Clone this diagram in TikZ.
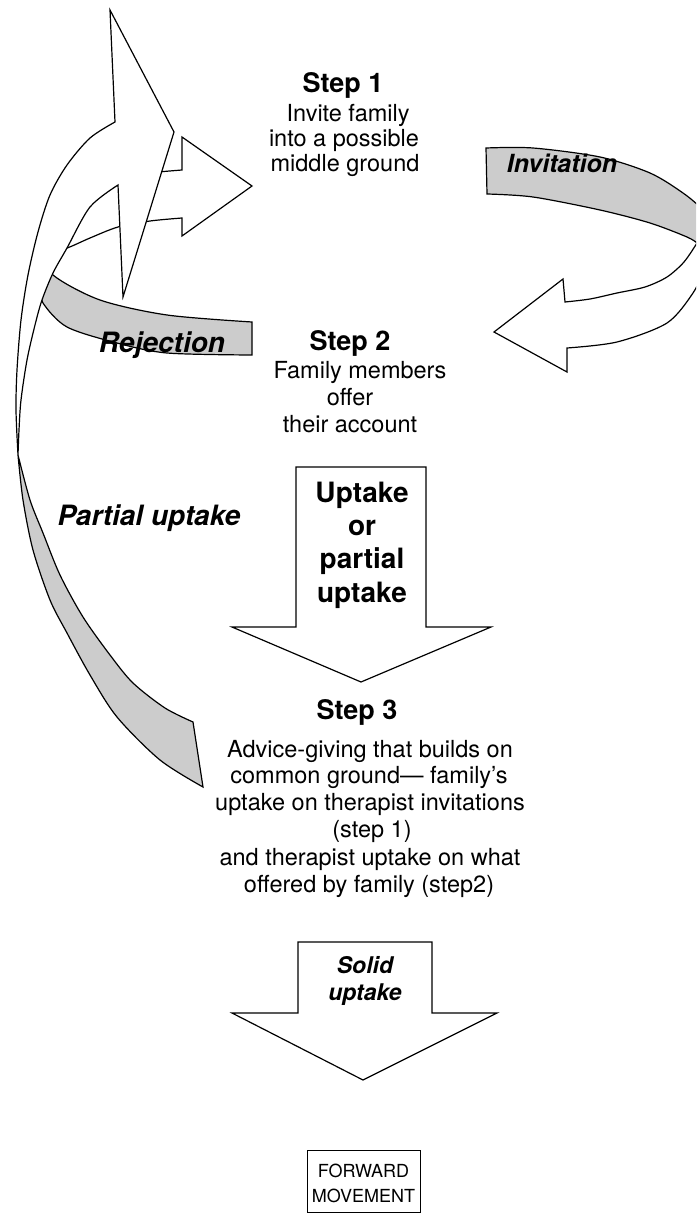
\documentclass[tikz,border=0pt]{standalone}
\usepackage{fontspec}
\setmainfont{TeX Gyre Heros}
\definecolor{bandgray}{RGB}{204,204,204}
\begin{document}
\begin{tikzpicture}[x=1pt,y=-1pt,line join=miter,
  outl/.style={draw=black,line width=1.2pt},
  band/.style={outl,fill=bandgray},
  face/.style={outl,fill=white},
  body/.style={font=\fontsize{23.5}{26}\selectfont,inner sep=0pt,anchor=base},
  small/.style={font=\fontsize{18}{21}\selectfont,inner sep=0pt,anchor=base},
  ttl/.style={font=\fontsize{27}{30}\selectfont\bfseries,inner sep=0pt,anchor=base},
  lbl/.style={font=\fontsize{28}{30}\selectfont\bfseries\itshape,inner sep=0pt,anchor=base},
  boxtxt/.style={font=\fontsize{28}{30}\selectfont\bfseries,inner sep=0pt,anchor=base}]
\useasboundingbox (0,0) rectangle (696,1230);
\clip (0,0) rectangle (696,1230);

% ---------- Rejection arrow (behind the big arrow) ----------
\path[band] plot[smooth] coordinates {(252,322) (167,315) (100,300) (53,275) (44,252) (41,230)}
  -- plot[smooth] coordinates {(41,230) (39,262) (40,285) (43,303) (67,327) (117,343) (167,353) (252,355)} -- cycle;
\path[face] (182,218) -- (182,236) -- (252,186) -- (182,137) -- (182,170)
  -- plot[smooth] coordinates {(182,170) (140,174) (100,182) (65,198) (46,216)}
  .. controls (40,225) and (36,238) .. (37,246)
  -- plot[smooth] coordinates {(37,246) (50,251) (67,248) (90,238) (118,227) (150,221) (182,218)} -- cycle;

% ---------- Partial uptake arrow (big) ----------
\path[band] plot[smooth] coordinates {(203,787) (160,760) (117,717) (90,675) (67,633) (50,600) (33,550) (23,500) (18,455)}
  -- plot[smooth] coordinates {(18,455) (30,500) (43,533) (60,575) (83,617) (110,655) (133,683) (165,708) (193,722)} -- cycle;
\path[face] plot[smooth] coordinates {(18,455) (16,410) (17,370) (21,320) (28,275) (38,232) (50,195) (67,165) (90,138) (115,122)}
  -- (110,10) -- (174,132) -- (123,297) -- (118,185)
  -- plot[smooth] coordinates {(118,185) (90,207) (67,248) (53,273) (42,300) (35,325) (27,360) (21,400) (19,430) (18,455)} -- cycle;

% ---------- Invitation arrow ----------
\path[band] plot[smooth] coordinates {(486,148) (533,148) (600,157) (650,173) (683,193) (703,210) (716,228)}
  -- (716,243) -- (697,243)
  -- plot[smooth] coordinates {(697,243) (687,237) (650,223) (600,210) (533,197) (487,194)} -- cycle;
\path[face] plot[smooth] coordinates {(697,243) (684,262) (667,277) (645,287) (617,293) (590,299) (565,302)}
  -- (563,279) -- (494,332) -- (567,372) -- (567,348)
  -- plot[smooth] coordinates {(567,348) (617,342) (667,323) (693,293) (705,268)} -- (716,250) -- cycle;

% ---------- Block arrows ----------
\path[face] (296,467) -- (426,467) -- (426,627) -- (491,627) -- (361,682) -- (232,627) -- (296,627) -- cycle;
\path[face] (298,942) -- (432,942) -- (432,1013) -- (497,1013) -- (363,1080) -- (232,1013) -- (298,1013) -- cycle;

% ---------- Forward movement box ----------
\node[outl,fill=white,minimum width=113pt,minimum height=62pt,inner sep=0pt,anchor=north west] (fwd) at (307,1150) {};
\node[small] (fwd1) at (363.5,1177) {FORWARD};
\node[small] (fwd2) at (363.5,1202) {MOVEMENT};

% ---------- Step 1 ----------
\node[ttl] (s1t) at (343,93) {Step 1};
\node[body] (s1a) at (348,122) {Invite family};
\node[body] (s1b) at (344,147) {into a possible};
\node[body] (s1c) at (345,172) {middle ground};

% ---------- Step 2 ----------
\node[ttl] (s2t) at (350,350) {Step 2};
\node[body] (s2a) at (360,378) {Family members};
\node[body] (s2b) at (350,405) {offer};
\node[body] (s2c) at (350,432) {their account};

% ---------- Step 3 ----------
\node[ttl] (s3t) at (357,719) {Step 3};
\node[body] (s3a) at (370,757) {Advice-giving that builds on};
\node[body] (s3b) at (369,783) {common ground---\ family's};
\node[body] (s3c) at (370,810) {uptake on therapist invitations};
\node[body] (s3d) at (372,837) {(step 1)};
\node[body] (s3e) at (370,865) {and therapist uptake on what};
\node[body] (s3f) at (369,892) {offered by family (step2)};

% ---------- Uptake arrow text ----------
\node[boxtxt] (u1) at (362,502) {Uptake};
\node[boxtxt] (u2) at (362,535) {or};
\node[boxtxt] (u3) at (362,568) {partial};
\node[boxtxt] (u4) at (362,602) {uptake};

% ---------- Solid uptake text ----------
\node[lbl,font=\fontsize{23}{26}\selectfont\bfseries\itshape] (su1) at (365,973) {Solid};
\node[lbl,font=\fontsize{23}{26}\selectfont\bfseries\itshape] (su2) at (365,1000) {uptake};

% ---------- Labels ----------
\node[lbl,font=\fontsize{25}{28}\selectfont\bfseries\itshape] (inv) at (562,173) {Invitation};
\node[lbl] (rej) at (162,352) {Rejection};
\node[lbl] (pu) at (149,525) {Partial uptake};
\end{tikzpicture}
\end{document}
